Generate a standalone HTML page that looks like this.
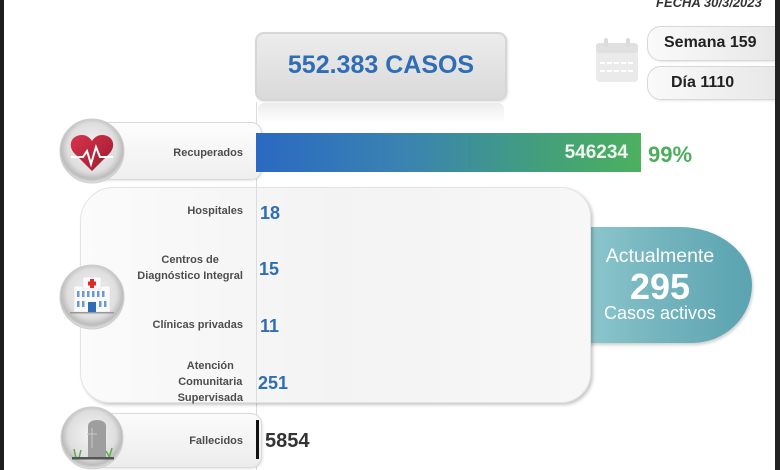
<!DOCTYPE html>
<html><head><meta charset="utf-8">
<style>
*{margin:0;padding:0;box-sizing:border-box}
html,body{width:780px;height:470px;overflow:hidden;background:#fff}
body{position:relative;font-family:"Liberation Sans",sans-serif}
.a{position:absolute}
.lbl{position:absolute;right:537px;text-align:center;font-weight:bold;font-size:11px;color:#4d4d4d;white-space:nowrap;line-height:16px}
.val{position:absolute;font-weight:bold;font-size:18px;color:#2f6db5;line-height:20px;white-space:nowrap}
</style></head><body>

<!-- vertical line -->
<div class="a" style="left:256px;top:102px;width:1px;height:368px;background:#dcdcdc"></div>

<!-- top box -->
<div class="a" style="left:255px;top:32px;width:252px;height:69px;border-radius:9px;border:2px solid #d6d6d6;background:linear-gradient(180deg,#ececec,#dadada);box-shadow:1px 1px 2px rgba(0,0,0,.12)"></div>
<div class="a" style="left:258px;top:103px;width:246px;height:20px;background:linear-gradient(180deg,rgba(215,215,215,.45),rgba(255,255,255,0));border-radius:6px 6px 0 0"></div>
<div class="a" style="left:255px;top:50px;width:252px;line-height:30px;text-align:center;font-weight:bold;font-size:25px;color:#2f6db5">552.383 CASOS</div>

<div class="a" style="left:656px;top:-4px;font-weight:bold;font-style:italic;font-size:13px;color:#333;line-height:14px">FECHA 30/3/2023</div>

<!-- semana / dia boxes -->
<div class="a" style="left:647px;top:26px;width:140px;height:35px;border-radius:14px 0 0 14px;border:1px solid #d8d8d8;background:linear-gradient(90deg,#fafafa,#e6e6e6);box-shadow:1px 1px 2px rgba(0,0,0,.1)"></div>
<div class="a" style="left:647px;top:66px;width:140px;height:34px;border-radius:14px 0 0 14px;border:1px solid #d8d8d8;background:linear-gradient(90deg,#fafafa,#e6e6e6);box-shadow:1px 1px 2px rgba(0,0,0,.1)"></div>
<div class="a" style="left:664px;top:33px;font-weight:bold;font-size:16px;color:#222;line-height:20px">Semana 159</div>
<div class="a" style="left:671px;top:73px;font-weight:bold;font-size:16px;color:#222;line-height:20px">Día 1110</div>

<!-- recuperados box -->
<div class="a" style="left:96px;top:122px;width:166px;height:58px;border-radius:0 11px 11px 0;border:1px solid #dadada;background:linear-gradient(180deg,#fdfdfd,#efefef);box-shadow:1px 1px 2px rgba(0,0,0,.1)"></div>
<div class="a" style="left:256px;top:133px;width:385px;height:39px;background:linear-gradient(90deg,#2a69c2 0%,#3a84b0 40%,#43a07a 75%,#4cb05f 100%)"></div>
<div class="a" style="left:540px;top:142px;width:88px;text-align:right;font-weight:bold;font-size:19px;color:#eef6ee;line-height:22px">546234</div>
<div class="a" style="left:648px;top:142px;font-weight:bold;font-size:22px;color:#4cae5c;line-height:26px">99%</div>
<div class="lbl" style="top:145px">Recuperados</div>

<!-- teal pill -->
<div class="a" style="left:570px;top:227px;width:182px;height:116px;border-radius:0 72px 60px 0/0 58px 58px 0;background:linear-gradient(90deg,#93cbd1,#76b6bf 45%,#5aa3b0);box-shadow:1px 2px 3px rgba(0,0,0,.2)"></div>
<div class="a" style="left:600px;top:245px;width:120px;text-align:center;color:#fff;font-size:19.5px;line-height:22px">Actualmente</div>
<div class="a" style="left:600px;top:267px;width:120px;text-align:center;color:#fff;font-size:36px;font-weight:bold;line-height:40px">295</div>
<div class="a" style="left:600px;top:302px;width:120px;text-align:center;color:#fff;font-size:18px;line-height:22px">Casos activos</div>

<!-- big panel -->
<div class="a" style="left:80px;top:187px;width:511px;height:216px;border-radius:34px 30px 30px 30px;border:1px solid #e3e3e3;background:linear-gradient(90deg,#fbfbfb,#f3f3f3 50%,#f7f7f7);box-shadow:2px 2px 3px rgba(0,0,0,.22)"></div>
<div class="a" style="left:256px;top:188px;width:1px;height:214px;background:#dcdcdc"></div>

<div class="lbl" style="top:203px">Hospitales</div>
<div class="lbl" style="top:252px">Centros de<br>Diagnóstico Integral</div>
<div class="lbl" style="top:317px">Clínicas privadas</div>
<div class="lbl" style="top:358px">Atención<br>Comunitaria<br>Supervisada</div>
<div class="val" style="left:260px;top:203px">18</div>
<div class="val" style="left:259px;top:259px">15</div>
<div class="val" style="left:260px;top:316px">11</div>
<div class="val" style="left:258px;top:373px">251</div>

<!-- fallecidos -->
<div class="a" style="left:96px;top:413px;width:166px;height:55px;border-radius:0 11px 11px 0;border:1px solid #dadada;background:linear-gradient(180deg,#fbfbfb,#ececec);box-shadow:1px 1px 2px rgba(0,0,0,.1)"></div>
<div class="a" style="left:256px;top:420px;width:3px;height:39px;background:#111"></div>
<div class="lbl" style="top:433px">Fallecidos</div>
<div class="a" style="left:265px;top:429px;font-weight:bold;font-size:20px;color:#333;line-height:24px">5854</div>

<svg class="a" style="left:0;top:0" width="780" height="470" viewBox="0 0 780 470">
<defs>
<radialGradient id="disc" cx="50%" cy="45%" r="55%">
<stop offset="0" stop-color="#f5f5f5"/><stop offset=".7" stop-color="#dedede"/><stop offset=".88" stop-color="#bcbcbc"/><stop offset="1" stop-color="#e4e4e4"/>
</radialGradient>
<linearGradient id="heart" x1="0" y1="0" x2="1" y2="1">
<stop offset="0" stop-color="#d8344d"/><stop offset="1" stop-color="#9c1a2e"/>
</linearGradient>
</defs>
<!-- calendar -->
<g opacity=".75">
<rect x="596" y="43" width="42" height="39" rx="4" fill="#e4e4e4"/>
<rect x="596" y="43" width="42" height="10" rx="3" fill="#d6d6d6"/>
<rect x="604" y="38" width="4" height="9" rx="2" fill="#d0d0d0"/>
<rect x="626" y="38" width="4" height="9" rx="2" fill="#d0d0d0"/>
<line x1="600" y1="63" x2="634" y2="63" stroke="#fff" stroke-width="2" stroke-dasharray="5 2"/>
<line x1="600" y1="71" x2="634" y2="71" stroke="#fff" stroke-width="2" stroke-dasharray="5 2"/>
</g>
<!-- heart disc -->
<circle cx="92" cy="151" r="32" fill="url(#disc)" stroke="#cfcfcf" stroke-width="1"/>
<path d="M92,171 L75,154 C67,146 71,135 82,135 C87,135 90,138 92,141 C94,138 97,135 102,135 C113,135 117,146 109,154 Z" fill="url(#heart)"/>
<path d="M71,157 L83,157 L87,151 L91,164 L96,147 L100,157 L113,157" fill="none" stroke="#fff" stroke-width="2"/>
<!-- hospital disc -->
<circle cx="92" cy="297" r="32" fill="url(#disc)" stroke="#cfcfcf" stroke-width="1"/>
<rect x="74" y="286" width="36" height="26" fill="#fafafa" stroke="#d8d8d8" stroke-width=".5"/>
<rect x="83" y="277" width="18" height="12" fill="#fafafa" stroke="#d8d8d8" stroke-width=".5"/>
<rect x="90" y="279" width="4" height="9" fill="#e02a2a"/>
<rect x="88" y="281.5" width="8" height="4" fill="#e02a2a"/>
<g fill="#6a9ad6">
<rect x="77" y="291" width="2.5" height="6"/><rect x="82" y="291" width="2.5" height="6"/><rect x="87" y="291" width="2.5" height="6"/><rect x="92" y="291" width="2.5" height="6"/><rect x="97" y="291" width="2.5" height="6"/><rect x="102" y="291" width="2.5" height="6"/>
<rect x="77" y="301" width="2.5" height="6"/><rect x="82" y="301" width="2.5" height="6"/><rect x="99" y="301" width="2.5" height="6"/><rect x="104" y="301" width="2.5" height="6"/>
</g>
<rect x="88" y="302" width="8" height="10" fill="#2f6db5"/>
<rect x="70" y="312" width="44" height="1.5" fill="#999"/>
<!-- tomb disc -->
<circle cx="92" cy="438" r="31" fill="url(#disc)" stroke="#cfcfcf" stroke-width="1"/>
<path d="M88,458 L88,426 C88,418 106,418 106,426 L106,458 Z" fill="#9e9e9e"/>
<line x1="92" y1="428" x2="92" y2="448" stroke="#c8c8c8" stroke-width="1"/>
<line x1="87" y1="434" x2="97" y2="434" stroke="#c8c8c8" stroke-width="1"/>
<path d="M76,458 L74,449 M79,458 L81,450 M109,458 L112,448 M110,458 L106,451" stroke="#5bb04b" stroke-width="1.5"/>
<rect x="72" y="457" width="42" height="2.5" fill="#555"/>
</svg>

<div class="a" style="left:0;top:0;width:4px;height:470px;background:#1e1e1e"></div>
<div class="a" style="left:775px;top:0;width:5px;height:470px;background:#222"></div>
</body></html>
